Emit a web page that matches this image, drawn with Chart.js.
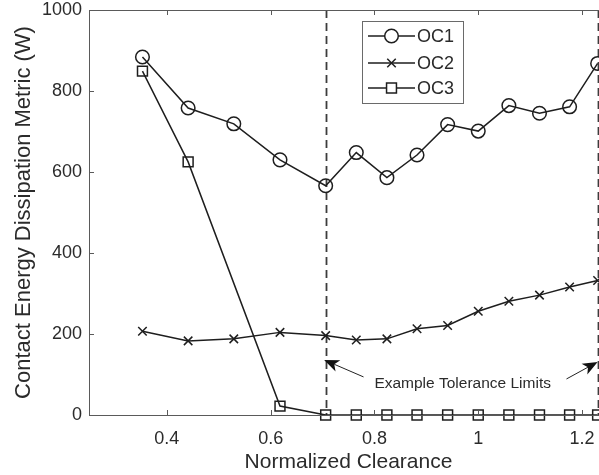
<!DOCTYPE html>
<html>
<head>
<meta charset="utf-8">
<script src="https://cdn.jsdelivr.net/npm/chart.js@4/dist/chart.umd.min.js"></script>
<style>
  html, body { margin: 0; padding: 0; overflow: hidden; background: #fff; }
  #wrap { width: 620px; height: 475px; }
</style>
</head>
<body>
<div id="wrap"><canvas id="c" width="620" height="475"></canvas></div>
<script>
// Normalized clearance sample points
const clearance = [0.353, 0.441, 0.529, 0.618, 0.706, 0.765, 0.824, 0.882, 0.941, 1.0, 1.059, 1.118, 1.176, 1.23];
// Contact energy dissipation metric (W) per operating condition
const oc1 = [884, 758, 719, 630, 566, 648, 586, 642, 717, 701, 764, 745, 761, 868];
const oc2 = [207, 183, 188, 204, 196, 185, 188, 213, 221, 256, 281, 296, 316, 332];
const oc3 = [849, 625, null, 22, 0, 0, 0, 0, 0, 0, 0, 0, 0, 0];
const seriesNames = ['OC1', 'OC2', 'OC3'];
// Tolerance limits marked with dashed lines
const toleranceLimits = [0.706, 1.23];
const annotationText = 'Example Tolerance Limits';
// Axis ticks
const xTicks = [0.4, 0.6, 0.8, 1, 1.2];
const yTicks = [0, 200, 400, 600, 800, 1000];

const FONT = '"Liberation Sans", Arial, Helvetica, sans-serif';
const INK = '#1e1e1e';
const AXIS = '#5a5a5a';
const TEXT = '#2b2b2b';

Chart.defaults.font.family = FONT;

function toPoints(ys) {
  return clearance.map((x, i) => ({ x: x, y: ys[i] }));
}

const styles = [
  { pointStyle: 'circle', pointRadius: 6.8 },
  { pointStyle: 'crossRot', pointRadius: 6 },
  { pointStyle: 'rect', pointRadius: 7 }
];

const datasets = [oc1, oc2, oc3].map((ys, i) => ({
  label: seriesNames[i],
  data: toPoints(ys),
  borderColor: INK,
  backgroundColor: 'rgba(0,0,0,0)',
  borderWidth: 1.5,
  pointStyle: styles[i].pointStyle,
  pointRadius: styles[i].pointRadius,
  pointBorderWidth: 1.5,
  pointBorderColor: INK,
  pointBackgroundColor: 'rgba(0,0,0,0)',
  pointHoverRadius: styles[i].pointRadius,
  spanGaps: true,
  tension: 0,
  clip: false
}));

// Dashed tolerance-limit lines
const limitLines = {
  id: 'limitLines',
  beforeDatasetsDraw(chart) {
    const { ctx, chartArea: a, scales: { x } } = chart;
    ctx.save();
    ctx.strokeStyle = '#3c3c3c';
    ctx.lineWidth = 1.8;
    ctx.setLineDash([8, 5]);
    toleranceLimits.forEach(v => {
      const px = Math.round(x.getPixelForValue(v)) + 0.5;
      ctx.beginPath();
      ctx.moveTo(px, a.top);
      ctx.lineTo(px, a.bottom);
      ctx.stroke();
    });
    ctx.restore();
  }
};

// Box outline and inward tick marks
const axesBox = {
  id: 'axesBox',
  afterDatasetsDraw(chart) {
    const { ctx, chartArea: a, scales: { x, y } } = chart;
    ctx.save();
    ctx.strokeStyle = AXIS;
    ctx.lineWidth = 1;
    ctx.beginPath();
    ctx.moveTo(a.left + 0.5, a.bottom + 0.5);
    ctx.lineTo(a.left + 0.5, a.top + 0.5);
    ctx.lineTo(a.right + 0.5, a.top + 0.5);
    ctx.lineTo(a.right + 0.5, a.bottom + 0.5);
    ctx.lineTo(a.left + 0.5, a.bottom + 0.5);
    ctx.stroke();
    const len = 5;
    ctx.beginPath();
    xTicks.forEach(v => {
      const px = Math.round(x.getPixelForValue(v)) + 0.5;
      ctx.moveTo(px, a.bottom); ctx.lineTo(px, a.bottom - len);
      ctx.moveTo(px, a.top); ctx.lineTo(px, a.top + len);
    });
    yTicks.forEach(v => {
      const py = Math.round(y.getPixelForValue(v)) + 0.5;
      ctx.moveTo(a.left, py); ctx.lineTo(a.left + len, py);
      ctx.moveTo(a.right, py); ctx.lineTo(a.right - len, py);
    });
    ctx.stroke();
    ctx.restore();
  }
};

function arrow(ctx, x0, y0, x1, y1) {
  const ang = Math.atan2(y1 - y0, x1 - x0);
  const L = 15, W = 6;
  const c = Math.cos(ang), s = Math.sin(ang);
  const bx = x1 - L * c, by = y1 - L * s;
  ctx.beginPath();
  ctx.moveTo(x0, y0);
  ctx.lineTo(bx + 4 * c, by + 4 * s);
  ctx.stroke();
  ctx.beginPath();
  ctx.moveTo(x1, y1);
  ctx.lineTo(bx + W * s, by - W * c);
  ctx.lineTo(bx + 4 * c, by + 4 * s);
  ctx.lineTo(bx - W * s, by + W * c);
  ctx.closePath();
  ctx.fill();
}

// Text annotation pointing at both limits
const limitNote = {
  id: 'limitNote',
  afterDatasetsDraw(chart) {
    const { ctx, scales: { x, y } } = chart;
    ctx.save();
    ctx.fillStyle = TEXT;
    ctx.font = '15.5px ' + FONT;
    ctx.textAlign = 'center';
    ctx.textBaseline = 'middle';
    ctx.fillText(annotationText, x.getPixelForValue(0.97), y.getPixelForValue(78));
    ctx.strokeStyle = '#222';
    ctx.fillStyle = '#111';
    ctx.lineWidth = 1;
    arrow(ctx, x.getPixelForValue(0.779), y.getPixelForValue(94), x.getPixelForValue(toleranceLimits[0]) - 1.5, y.getPixelForValue(136));
    arrow(ctx, x.getPixelForValue(1.17), y.getPixelForValue(89), x.getPixelForValue(toleranceLimits[1]), y.getPixelForValue(131));
    ctx.restore();
  }
};

// Boxed legend inside the plot, line sample with marker
const boxLegend = {
  id: 'boxLegend',
  afterDraw(chart) {
    const { ctx, chartArea: a } = chart;
    const bx = a.left + 273, by = a.top + 11, bw = 101, bh = 82;
    ctx.save();
    ctx.fillStyle = '#fff';
    ctx.fillRect(bx, by, bw, bh);
    ctx.strokeStyle = '#6a6a6a';
    ctx.lineWidth = 1;
    ctx.strokeRect(bx + 0.5, by + 0.5, bw, bh);
    const rows = [15, 42, 67];
    chart.data.datasets.forEach((ds, i) => {
      const yy = by + rows[i];
      ctx.strokeStyle = INK;
      ctx.lineWidth = 1.5;
      ctx.beginPath();
      ctx.moveTo(bx + 6, yy);
      ctx.lineTo(bx + 53, yy);
      ctx.stroke();
      ctx.fillStyle = '#fff';
      ctx.strokeStyle = INK;
      Chart.helpers.drawPoint(ctx, {
        pointStyle: ds.pointStyle, radius: ds.pointRadius, borderWidth: 1.5, rotation: 0
      }, bx + 29.5, yy);
      ctx.fillStyle = TEXT;
      ctx.font = '18px ' + FONT;
      ctx.textAlign = 'left';
      ctx.textBaseline = 'middle';
      ctx.fillText(ds.label, bx + 55, yy + 1);
    });
    ctx.restore();
  }
};

new Chart(document.getElementById('c'), {
  type: 'line',
  data: { datasets },
  options: {
    responsive: false,
    animation: false,
    devicePixelRatio: 1,
    events: [],
    layout: { padding: { top: 10, right: 12, left: 0, bottom: 0 } },
    plugins: { legend: { display: false }, tooltip: { enabled: false } },
    scales: {
      x: {
        type: 'linear',
        min: 0.25,
        max: 1.25,
        afterBuildTicks: s => { s.ticks = xTicks.map(v => ({ value: v })); },
        afterFit: s => { s.height = 60; s.paddingLeft = 0; s.paddingRight = 0; },
        grid: { display: false, drawTicks: false },
        border: { display: false },
        ticks: {
          padding: 15, color: TEXT, autoSkip: false, maxRotation: 0,
          font: { size: 18, lineHeight: 1 },
          callback: v => String(v)
        },
        title: {
          display: true, text: 'Normalized Clearance', color: TEXT,
          font: { size: 21, lineHeight: 1.2 }, padding: { top: 0, bottom: 0 }
        }
      },
      y: {
        min: 0,
        max: 1000,
        afterBuildTicks: s => { s.ticks = yTicks.map(v => ({ value: v })); },
        afterFit: s => { s.width = 89; s.paddingTop = 0; s.paddingBottom = 0; },
        grid: { display: false, drawTicks: false },
        border: { display: false },
        ticks: {
          padding: 7, color: TEXT,
          font: { size: 18, lineHeight: 1 },
          callback: v => String(v)
        },
        title: {
          display: true, text: 'Contact Energy Dissipation Metric (W)', color: TEXT,
          font: { size: 22, lineHeight: 1.2 }, padding: { top: 11, bottom: 0 }
        }
      }
    }
  },
  plugins: [limitLines, axesBox, limitNote, boxLegend]
});
</script>
</body>
</html>
